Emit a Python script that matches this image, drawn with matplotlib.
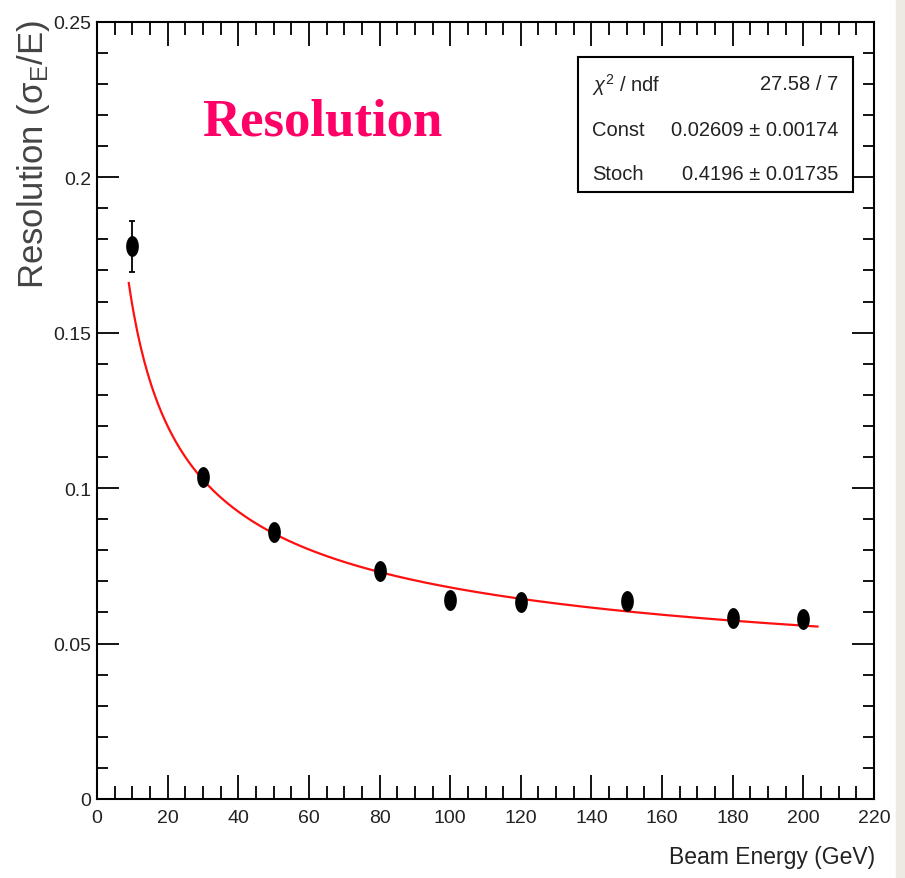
import numpy as np
import matplotlib
matplotlib.use('Agg')
import matplotlib.pyplot as plt
from matplotlib import font_manager
from matplotlib.path import Path
from matplotlib.patches import Rectangle
from matplotlib.ticker import MultipleLocator, FuncFormatter

# data
energy = [10, 30, 50, 80, 100, 120, 150, 180, 200]  # GeV
resolution = [0.1778, 0.1035, 0.0858, 0.0733, 0.0639, 0.0633, 0.0636, 0.0582, 0.0578]
res_err = [0.0082, 0.0015, 0.0013, 0.0011, 0.0010, 0.0010, 0.0010, 0.0009, 0.0009]

# fit result shown in the stats box
fit_const = 0.02609
fit_stoch = 0.4196
fit_range = [9.0, 204.0]
stats_names = [r'$\chi^2$ / ndf', 'Const', 'Stoch']
stats_values = ['27.58 / 7', u'0.02609 \u00b1 0.00174', u'0.4196 \u00b1 0.01735']

# fonts (narrow one if it is there)
installed = {f.name for f in font_manager.fontManager.ttflist}
narrow = 'Liberation Sans Narrow' if 'Liberation Sans Narrow' in installed else 'Liberation Sans'
plt.rcParams['font.family'] = [narrow, 'DejaVu Sans']
plt.rcParams['mathtext.fontset'] = 'custom'
plt.rcParams['mathtext.rm'] = narrow
plt.rcParams['mathtext.it'] = narrow + ':italic'

fig = plt.figure(figsize=(9.05, 8.79), dpi=100)
W, H = 905, 879
# axes frame in pixels: x 97..874, y 22.7..800
ax = fig.add_axes([97 / W, 1 - 800 / H, 777 / W, 777.3 / H])

# grey strip on the right edge
fig.patches.append(Rectangle((896 / W, 0), 1, 1, transform=fig.transFigure,
                             color='#ECEAE2', zorder=-1))

# fit curve: Const + Stoch / sqrt(E)
xf = np.linspace(fit_range[0], fit_range[1], 400)
ax.plot(xf, fit_const + fit_stoch / np.sqrt(xf), color='#FF1010', lw=1.6, zorder=2)

# elliptical markers like the stretched original
t = np.linspace(0, 2 * np.pi, 60)
ellipse = Path(np.column_stack([0.58 * np.cos(t), np.sin(t)]), closed=True)
ax.errorbar(energy, resolution, yerr=res_err, fmt='none', ecolor='black',
            elinewidth=1.3, capsize=2.5, capthick=1.3, zorder=3)
ax.plot(energy, resolution, ls='none', marker=ellipse, ms=14,
        color='black', zorder=4)

ax.set_xlim(0, 220)
ax.set_ylim(0, 0.25)
ax.xaxis.set_major_locator(MultipleLocator(20))
ax.xaxis.set_minor_locator(MultipleLocator(5))
ax.yaxis.set_major_locator(MultipleLocator(0.05))
ax.yaxis.set_minor_locator(MultipleLocator(0.01))
ax.yaxis.set_major_formatter(FuncFormatter(lambda v, p: '%g' % round(v, 3)))

for s in ax.spines.values():
    s.set_linewidth(1.5)
ax.tick_params(axis='both', which='both', direction='in', top=True, right=True,
               width=1.3, colors='black', labelcolor='#222222', labelsize=14)
ax.tick_params(axis='x', which='major', length=17.5, pad=7)
ax.tick_params(axis='x', which='minor', length=9.5)
ax.tick_params(axis='y', which='major', length=16, pad=4)
ax.tick_params(axis='y', which='minor', length=8)

# axis titles
fig.text(875 / W, 1 - 858 / H, 'Beam Energy (GeV)', ha='right', va='center',
         fontsize=16.5, color='#222222')
fig.text(34 / W, 1 - 20 / H, r'Resolution ($\mathrm{\sigma_{E}}$/E)', rotation=90,
         ha='center', va='top', fontsize=25, color='#444444')

# title added on top of the plot
ax.text((322 - 97) / 777, (800 - 136) / 777.3, 'Resolution', transform=ax.transAxes,
        ha='center', va='baseline', fontsize=38, fontweight='bold',
        color='#FF0066', family=['Liberation Serif', 'DejaVu Serif'])

# stats box
x0, x1 = (578 - 97) / 777, (853 - 97) / 777
y0, y1 = (800 - 193) / 777.3, (800 - 58) / 777.3
ax.add_patch(Rectangle((x0, y0), x1 - x0, y1 - y0, transform=ax.transAxes,
                       facecolor='white', edgecolor='black', lw=1.5, zorder=5))
row_y = [(800 - 85) / 777.3, (800 - 130) / 777.3, (800 - 175) / 777.3]
for name, val, yy in zip(stats_names, stats_values, row_y):
    ax.text((592 - 97) / 777, yy, name, transform=ax.transAxes, ha='left',
            va='center', fontsize=14.5, color='#222222', zorder=6)
    ax.text((838 - 97) / 777, yy, val, transform=ax.transAxes, ha='right',
            va='center', fontsize=14.5, color='#222222', zorder=6)

fig.savefig('out.png', dpi=100)
